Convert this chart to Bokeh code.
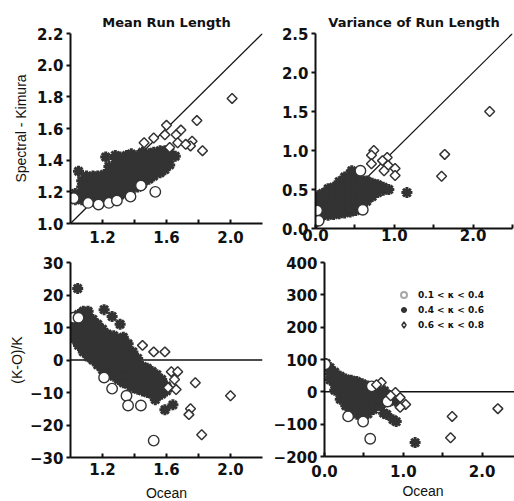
import numpy as np
from bokeh.plotting import figure
from bokeh.layouts import row, column
from bokeh.models import (FixedTicker, Span, Slope, Legend, LegendItem,
                          NumeralTickFormatter, CustomJSTickFormatter, Range1d)
from bokeh.embed import file_html
from bokeh.resources import INLINE

# ---------------- Panel (a): Mean Run Length, Ocean vs Spectral-Kimura ----------------
a_stars = [
    (1.03, 1.15), (1.03, 1.19),
    (1.07, 1.15), (1.07, 1.19), (1.07, 1.23), (1.07, 1.27),
    (1.10, 1.14), (1.10, 1.18), (1.10, 1.22), (1.10, 1.26), (1.10, 1.30),
    (1.14, 1.14), (1.14, 1.18), (1.14, 1.22), (1.14, 1.26), (1.14, 1.30),
    (1.17, 1.15), (1.17, 1.19), (1.17, 1.23), (1.17, 1.27), (1.17, 1.30),
    (1.21, 1.15), (1.21, 1.19), (1.21, 1.23), (1.21, 1.27), (1.21, 1.31),
    (1.24, 1.16), (1.24, 1.20), (1.24, 1.24), (1.24, 1.28), (1.24, 1.32), (1.24, 1.36),
    (1.28, 1.17), (1.28, 1.21), (1.28, 1.25), (1.28, 1.29), (1.28, 1.33), (1.28, 1.37), (1.28, 1.41), (1.28, 1.43),
    (1.31, 1.18), (1.31, 1.22), (1.31, 1.26), (1.31, 1.30), (1.31, 1.34), (1.31, 1.38), (1.31, 1.42),
    (1.35, 1.19), (1.35, 1.23), (1.35, 1.27), (1.35, 1.31), (1.35, 1.35), (1.35, 1.39), (1.35, 1.43),
    (1.38, 1.21), (1.38, 1.25), (1.38, 1.29), (1.38, 1.33), (1.38, 1.37), (1.38, 1.41), (1.38, 1.44),
    (1.42, 1.23), (1.42, 1.27), (1.42, 1.31), (1.42, 1.35), (1.42, 1.39), (1.42, 1.43),
    (1.45, 1.25), (1.45, 1.29), (1.45, 1.33), (1.45, 1.37), (1.45, 1.41), (1.45, 1.45),
    (1.49, 1.28), (1.49, 1.32), (1.49, 1.36), (1.49, 1.40), (1.49, 1.44),
    (1.52, 1.30), (1.52, 1.34), (1.52, 1.38), (1.52, 1.42), (1.52, 1.45),
    (1.56, 1.32), (1.56, 1.36), (1.56, 1.40), (1.56, 1.44), (1.56, 1.46),
    (1.59, 1.34), (1.59, 1.38), (1.59, 1.42), (1.59, 1.46),
    (1.62, 1.37), (1.62, 1.41), (1.62, 1.45),
    (1.05, 1.33), (1.22, 1.42), (1.655, 1.425),
]
a_circles = [(1.02, 1.16), (1.11, 1.13), (1.175, 1.12), (1.24, 1.13), (1.29, 1.145),
             (1.375, 1.17), (1.44, 1.24), (1.53, 1.20)]
a_diamonds = [(2.01, 1.79), (1.79, 1.65), (1.825, 1.46), (1.76, 1.52), (1.75, 1.49),
              (1.60, 1.62), (1.69, 1.59), (1.66, 1.56), (1.67, 1.51), (1.52, 1.54),
              (1.46, 1.51), (1.62, 1.48), (1.59, 1.56), (1.72, 1.50)]

# ---------------- Panel (b): Variance of Run Length ----------------
b_stars = [
    (0.03, 0.17), (0.03, 0.24), (0.03, 0.31), (0.03, 0.38), (0.03, 0.42),
    (0.09, 0.17), (0.09, 0.24), (0.09, 0.31), (0.09, 0.38), (0.09, 0.45),
    (0.16, 0.17), (0.16, 0.24), (0.16, 0.31), (0.16, 0.38), (0.16, 0.45), (0.16, 0.51),
    (0.23, 0.18), (0.23, 0.25), (0.23, 0.32), (0.23, 0.39), (0.23, 0.46), (0.23, 0.53),
    (0.30, 0.19), (0.30, 0.26), (0.30, 0.33), (0.30, 0.40), (0.30, 0.47), (0.30, 0.54), (0.30, 0.60),
    (0.37, 0.20), (0.37, 0.27), (0.37, 0.34), (0.37, 0.41), (0.37, 0.48), (0.37, 0.55), (0.37, 0.62), (0.37, 0.66),
    (0.44, 0.21), (0.44, 0.28), (0.44, 0.35), (0.44, 0.42), (0.44, 0.49), (0.44, 0.56), (0.44, 0.63), (0.44, 0.70),
    (0.51, 0.23), (0.51, 0.30), (0.51, 0.37), (0.51, 0.44), (0.51, 0.51), (0.51, 0.58), (0.51, 0.65),
    (0.58, 0.27), (0.58, 0.34), (0.58, 0.41), (0.58, 0.48), (0.58, 0.55), (0.58, 0.62),
    (0.65, 0.35), (0.65, 0.42), (0.65, 0.49), (0.65, 0.56), (0.65, 0.61),
    (0.72, 0.41), (0.72, 0.48), (0.72, 0.55), (0.72, 0.58),
    (0.79, 0.46), (0.79, 0.53), (0.79, 0.56),
    (0.86, 0.49), (0.86, 0.53),
    (0.93, 0.50),
    (1.16, 0.46), (0.46, 0.74),
]
b_circles = [(0.02, 0.23), (0.04, 0.10), (0.60, 0.24), (0.57, 0.74)]
b_diamonds = [(0.74, 1.00), (0.71, 0.94), (0.71, 0.83), (0.91, 0.91), (0.92, 0.81),
              (1.01, 0.77), (1.01, 0.68), (0.87, 0.74), (0.85, 0.87),
              (1.60, 0.67), (1.64, 0.95), (2.21, 1.50)]

# ---------------- Panel (c): (K-O)/K for mean run length ----------------
c_stars = [
    (1.02, 6.5), (1.02, 9), (1.02, 11.5),
    (1.05, 4.5), (1.05, 7), (1.05, 9.5), (1.05, 12), (1.05, 14),
    (1.08, 2.5), (1.08, 5), (1.08, 7.5), (1.08, 10), (1.08, 12.5), (1.08, 15),
    (1.11, 1), (1.11, 3.5), (1.11, 6), (1.11, 8.5), (1.11, 11), (1.11, 13.5), (1.11, 15),
    (1.14, 0), (1.14, 2.5), (1.14, 5), (1.14, 7.5), (1.14, 10), (1.14, 12.5),
    (1.17, -1.5), (1.17, 1), (1.17, 3.5), (1.17, 6), (1.17, 8.5), (1.17, 11),
    (1.20, -3), (1.20, -0.5), (1.20, 2), (1.20, 4.5), (1.20, 7), (1.20, 9.5),
    (1.23, -4), (1.23, -1.5), (1.23, 1), (1.23, 3.5), (1.23, 6), (1.23, 8),
    (1.27, -5), (1.27, -2.5), (1.27, 0), (1.27, 2.5), (1.27, 5), (1.27, 7.5),
    (1.30, -6), (1.30, -3.5), (1.30, -1), (1.30, 1.5), (1.30, 4), (1.30, 6.5),
    (1.33, -7), (1.33, -4.5), (1.33, -2), (1.33, 0.5), (1.33, 3), (1.33, 5.5), (1.33, 7),
    (1.36, -7.5), (1.36, -5), (1.36, -2.5), (1.36, 0), (1.36, 2.5), (1.36, 5),
    (1.39, -8.5), (1.39, -6), (1.39, -3.5), (1.39, -1), (1.39, 2.5),
    (1.42, -9), (1.42, -6.5), (1.42, -4), (1.42, -1.5), (1.42, 0.5),
    (1.45, -9.5), (1.45, -7), (1.45, -4.5), (1.45, -2),
    (1.48, -10), (1.48, -7.5), (1.48, -5), (1.48, -2.5),
    (1.51, -10.5), (1.51, -8), (1.51, -5.5), (1.51, -3.5),
    (1.54, -11), (1.54, -8.5), (1.54, -6), (1.54, -4.5),
    (1.57, -10.5), (1.57, -8), (1.57, -6),
    (1.60, -9.5), (1.60, -8),
    (1.045, 22), (1.21, 15.5), (1.26, 13.4), (1.31, 11), (1.53, -12.2), (1.59, -15.3), (1.64, -13.8),
]
c_circles = [(1.02, 13), (1.05, 13), (1.21, -5.4), (1.26, -8.8), (1.35, -11),
             (1.36, -14), (1.44, -14), (1.52, -24.8)]
c_diamonds = [(1.45, 4.5), (1.52, 2.5), (1.59, 2.5), (1.63, -3.6), (1.67, -3.6),
              (1.65, -6), (1.66, -9.1), (1.61, -8.5), (1.78, -7), (2.00, -11),
              (1.75, -15), (1.74, -16.8), (1.82, -23)]

# ---------------- Panel (d): (K-O)/K for variance of run length ----------------
d_stars = [
    (0.02, 80), (0.02, 88),
    (0.07, 37), (0.07, 55), (0.07, 75),
    (0.13, 5), (0.13, 23), (0.13, 41), (0.13, 61),
    (0.20, -23), (0.20, -5), (0.20, 13), (0.20, 31), (0.20, 48),
    (0.27, -43), (0.27, -25), (0.27, -7), (0.27, 11), (0.27, 29), (0.27, 40),
    (0.34, -59), (0.34, -41), (0.34, -23), (0.34, -5), (0.34, 13), (0.34, 31), (0.34, 36),
    (0.41, -69), (0.41, -51), (0.41, -33), (0.41, -15), (0.41, 3), (0.41, 21), (0.41, 32),
    (0.48, -74), (0.48, -56), (0.48, -38), (0.48, -20), (0.48, -2), (0.48, 16), (0.48, 25),
    (0.55, -68), (0.55, -50), (0.55, -32), (0.55, -14), (0.55, 4), (0.55, 18),
    (0.62, -55), (0.62, -37), (0.62, -19), (0.62, -1), (0.62, 11),
    (0.69, -41), (0.69, -23), (0.69, -5), (0.69, 10),
    (0.76, -33), (0.76, -15), (0.76, 3),
    (0.83, -29), (0.83, -11),
    (0.90, -28), (0.90, -17),
    (0.79, -70), (0.75, -66), (0.91, -92), (0.87, -86), (1.15, -157),
]
d_circles = [(0.01, 85), (0.60, 17), (0.30, -76), (0.49, -92), (0.58, -145), (0.80, -30)]
d_diamonds = [(0.72, 29), (0.66, 22), (0.90, -2), (0.96, -18), (1.03, -39), (0.96, -48),
              (0.84, -12), (1.60, -142), (1.62, -76), (2.20, -52)]

legend_labels = ["0.1 < \u03ba < 0.4", "0.4 < \u03ba < 0.6", "0.6 < \u03ba < 0.8"]

INK = "#333333"
AXC = "#111111"


def xy(pairs):
    return [p[0] for p in pairs], [p[1] for p in pairs]


def make_fig(xr, yr, fw, fh, left, right, top, bottom, title=None):
    p = figure(x_range=Range1d(*xr), y_range=Range1d(*yr), frame_width=fw, frame_height=fh,
               min_border_left=left, min_border_right=right, min_border_top=top,
               min_border_bottom=bottom, output_backend="svg", toolbar_location=None,
               title=title)
    p.outline_line_color = None
    p.grid.visible = False
    p.background_fill_color = "white"
    p.border_fill_color = "white"
    if title:
        p.title.align = "center"
        p.title.text_font = "DejaVu Sans"
        p.title.text_font_style = "bold"
        p.title.text_font_size = "13px"
        p.title.text_color = AXC
        p.title.standoff = 8
    for ax in (p.xaxis[0], p.yaxis[0]):
        ax.axis_line_width = 2
        ax.axis_line_color = AXC
        ax.major_tick_line_width = 2
        ax.major_tick_line_color = AXC
        ax.minor_tick_line_width = 2
        ax.minor_tick_line_color = AXC
        ax.major_label_text_font = "DejaVu Sans"
        ax.major_label_text_font_style = "bold"
        ax.major_label_text_font_size = "15px"
        ax.major_label_text_color = AXC
        ax.axis_label_text_font = "Liberation Sans"
        ax.axis_label_text_font_style = "normal"
        ax.axis_label_text_font_size = "14px"
        ax.axis_label_text_color = AXC
    p.xaxis.major_tick_in = 4
    p.xaxis.major_tick_out = 0
    p.xaxis.minor_tick_in = 4
    p.xaxis.minor_tick_out = 0
    p.yaxis.major_tick_in = 0
    p.yaxis.major_tick_out = 4
    p.yaxis.minor_tick_line_color = None
    p.yaxis.major_label_standoff = 3
    return p


def draw(p, stars, circles, diamonds):
    sx, sy = xy(stars)
    cx, cy = xy(circles)
    dx, dy = xy(diamonds)
    rs = p.scatter(sx, sy, marker="asterisk", size=11, line_color=INK, line_width=3)
    rc = p.scatter(cx, cy, marker="circle", size=10.5, line_color=INK, line_width=1.4,
                   fill_color="white")
    rd = p.scatter(dx, dy, marker="square", angle=np.pi / 4, size=7, line_color=INK,
                   line_width=1.5, fill_color="white")
    return rs, rc, rd


minus_fmt = CustomJSTickFormatter(code="return tick < 0 ? '\u2212' + Math.abs(tick) : '' + tick;")

# (a)
pa = make_fig((1.0, 2.2), (1.0, 2.2), 192, 190, 70, 8, 31, 25, title="Mean Run Length")
pa.add_layout(Slope(gradient=1, y_intercept=0, line_color=AXC, line_width=1.2, level="underlay"))
draw(pa, a_stars, a_circles, a_diamonds)
pa.xaxis.ticker = FixedTicker(ticks=[1.2, 1.6, 2.0], minor_ticks=[1.4, 1.8])
pa.yaxis.ticker = FixedTicker(ticks=[1.0, 1.2, 1.4, 1.6, 1.8, 2.0, 2.2])
pa.xaxis.formatter = NumeralTickFormatter(format="0.0")
pa.yaxis.formatter = NumeralTickFormatter(format="0.0")
pa.xaxis.major_label_standoff = 7
pa.yaxis.axis_label = "Spectral - Kimura"
pa.yaxis.axis_label_standoff = 5

# (b)
pb = make_fig((0.0, 2.5), (0.0, 2.5), 197, 195, 45, 2, 33, 18, title="Variance of Run Length")
pb.add_layout(Slope(gradient=1, y_intercept=0, line_color=AXC, line_width=1.2, level="underlay"))
draw(pb, b_stars, b_circles, b_diamonds)
pb.xaxis.ticker = FixedTicker(ticks=[0.0, 1.0, 2.0], minor_ticks=[0.5, 1.5, 2.5])
pb.yaxis.ticker = FixedTicker(ticks=[0.0, 0.5, 1.0, 1.5, 2.0, 2.5])
pb.xaxis.formatter = NumeralTickFormatter(format="0.0")
pb.yaxis.formatter = NumeralTickFormatter(format="0.0")
pb.xaxis.major_label_standoff = 0

# (c)
pc = make_fig((1.0, 2.2), (-30, 30), 192, 195, 70, 8, 14, 46)
pc.add_layout(Span(location=0, dimension="width", line_color=AXC, line_width=1.5, level="underlay"))
draw(pc, c_stars, c_circles, c_diamonds)
pc.xaxis.ticker = FixedTicker(ticks=[1.2, 1.6, 2.0], minor_ticks=[1.4, 1.8])
pc.yaxis.ticker = FixedTicker(ticks=[-30, -20, -10, 0, 10, 20, 30])
pc.xaxis.formatter = NumeralTickFormatter(format="0.0")
pc.yaxis.formatter = minus_fmt
pc.xaxis.major_label_standoff = 5
pc.xaxis.axis_label = "Ocean"
pc.xaxis.axis_label_standoff = 7
pc.yaxis.axis_label = "(K-O)/K"
pc.yaxis.axis_label_standoff = 2

# (d)
pd_ = make_fig((0.0, 2.5), (-200, 400), 197, 194, 45, 2, 16, 45)
pd_.add_layout(Span(location=0, dimension="width", line_color=AXC, line_width=1.5, level="underlay"))
rs, rc, rd = draw(pd_, d_stars, d_circles, d_diamonds)
pd_.xaxis.ticker = FixedTicker(ticks=[0.0, 1.0, 2.0], minor_ticks=[0.5, 1.5, 2.5])
pd_.yaxis.ticker = FixedTicker(ticks=[-200, -100, 0, 100, 200, 300, 400])
pd_.xaxis.formatter = NumeralTickFormatter(format="0.0")
pd_.yaxis.formatter = minus_fmt
pd_.xaxis.major_label_standoff = 8
pd_.xaxis.axis_label = "Ocean"
pd_.xaxis.axis_label_standoff = 3

# legend keys: renderers holding no visible point, used only for the key glyphs
lg_c = pd_.scatter(x=[np.nan], y=[np.nan], marker="circle", line_color="#a8a8a8", line_width=2,
                   fill_color=None)
lg_s = pd_.scatter(x=[np.nan], y=[np.nan], marker="asterisk", line_color=INK, line_width=1.8)
lg_d = pd_.scatter(x=[np.nan], y=[np.nan], marker="diamond", line_color=INK,
                   line_width=1.5, fill_color=None)
legend = Legend(items=[LegendItem(label=legend_labels[0], renderers=[lg_c]),
                       LegendItem(label=legend_labels[1], renderers=[lg_s]),
                       LegendItem(label=legend_labels[2], renderers=[lg_d])],
                location=(72, 124), glyph_width=15, glyph_height=15, label_height=15,
                spacing=0, padding=0, margin=0, label_standoff=7,
                label_text_font="DejaVu Sans", label_text_font_style="bold",
                label_text_font_size="9px", label_text_color=AXC,
                border_line_color=None, background_fill_alpha=0)
pd_.add_layout(legend)

layout = column(row(pa, pb), row(pc, pd_))
layout.spacing = 0

html = file_html(layout, INLINE, "Run length comparison")
with open("out.html", "w") as f:
    f.write(html)
